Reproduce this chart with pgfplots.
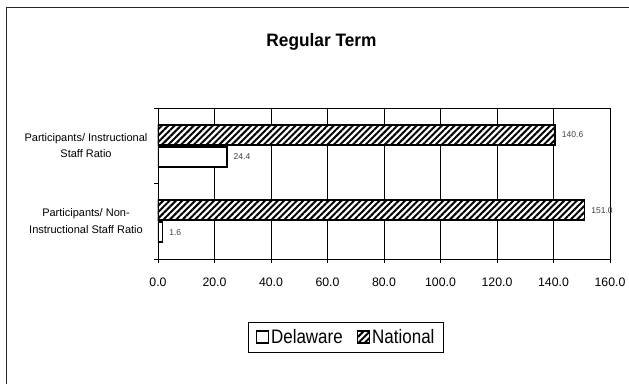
\documentclass[border=0pt]{standalone}
\usepackage{fontspec}
\setmainfont{Liberation Sans}
\newfontfamily\legfont[FakeStretch=0.87]{Liberation Sans}
\newfontfamily\titfont[FakeStretch=0.96]{Liberation Sans}
\usepackage{pgfplots}
\pgfplotsset{compat=1.18}
\usetikzlibrary{patterns.meta}

\begin{document}
\begin{tikzpicture}
\path[use as bounding box] (-158pt,-124pt) rectangle (471pt,259pt);
\draw[line width=1.2pt, black!85] (-151.7pt,-130pt) -- (-151.7pt,251.7pt) -- (480pt,251.7pt);
\begin{axis}[
  at={(0pt,0pt)}, anchor=south west,
  scale only axis, width=452pt, height=151pt,
  xbar, bar width=20pt,
  xmin=0, xmax=160, ymin=-0.5, ymax=1.5,
  xtick={0,20,...,160},
  ytick={-0.5,0.5,1.5}, yticklabels={},
  xtick pos=bottom, ytick pos=left,
  extra y ticks={0,1},
  extra y tick labels={{Participants/ Non-\\Instructional Staff Ratio},{Participants/ Instructional\\Staff Ratio}},
  extra y tick style={major tick length=0pt},
  yticklabel style={anchor=center, align=center, xshift=-72pt, font=\fontsize{11}{16.5}\selectfont},
  xticklabel style={font=\fontsize{12.3}{14}\selectfont, yshift=-11pt},
  tick align=outside, major tick length=4pt,
  tick style={black, line width=0.8pt},
  axis line style={black, line width=0.9pt},
  xmajorgrids, major grid style={black, line width=0.6pt},
  /pgf/number format/fixed,
  /pgf/number format/fixed zerofill,
  /pgf/number format/precision=1,
  /pgf/number format/assume math mode=true,
  nodes near coords,
  every node near coord/.append style={font=\fontsize{8.5}{10}\selectfont, text=black!75, anchor=west, inner sep=0pt, xshift=6pt},
  legend style={at={(rel axis cs:0.416,-0.517)}, anchor=center, draw=black, line width=0.6pt,
    font=\legfont\fontsize{19.5}{21}\selectfont, inner xsep=7pt, inner ysep=5pt,
    /tikz/every even column/.append style={column sep=12pt}},
  legend columns=2,
  legend image code/.code={\draw[#1, line width=1.5pt] (0pt,-6pt) rectangle (12pt,6pt);},
]
\addplot[draw=black, line width=1.6pt, fill=white, bar shift=-11pt] coordinates {(1.6,0) (24.4,1)};
\addlegendentry{Delaware}
\addplot[draw=black, line width=1.6pt, preaction={fill=white}, pattern={Lines[angle=45,distance=4.5pt,line width=2pt]}, pattern color=black, bar shift=11pt] coordinates {(151.0,0) (140.6,1)};
\addlegendentry{National}
\end{axis}
\node[font=\titfont\bfseries\fontsize{18}{20}\selectfont, anchor=base] at (163.5pt,212.3pt) {Regular Term};
\end{tikzpicture}
\end{document}
